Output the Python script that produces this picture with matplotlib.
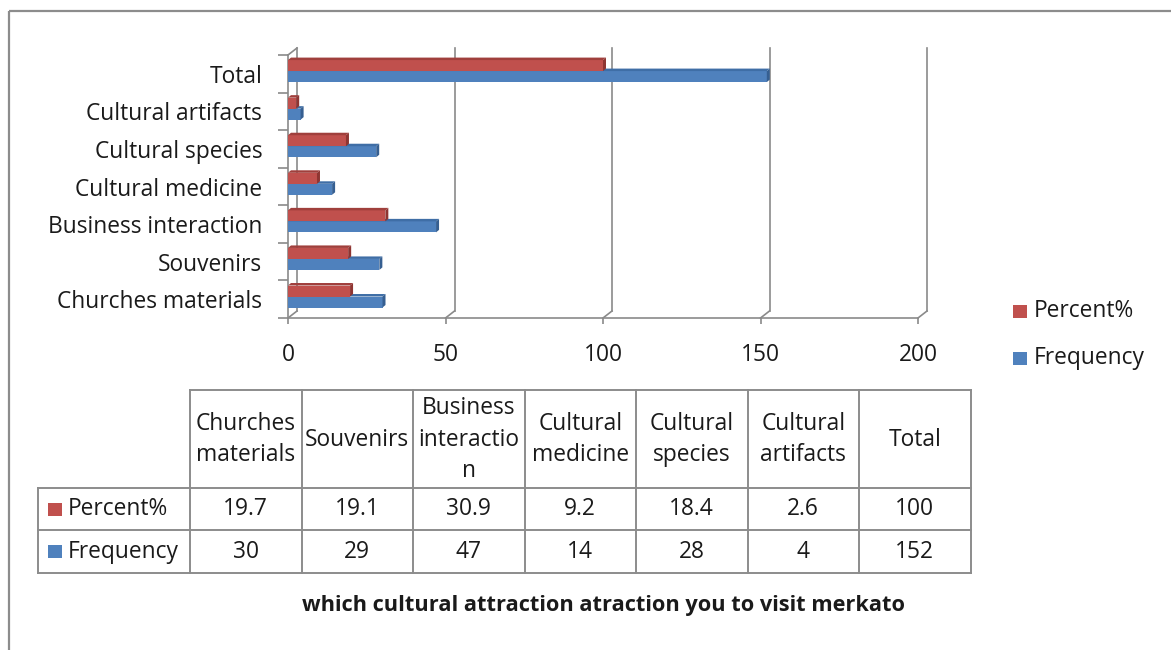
import matplotlib
matplotlib.use("Agg")
import matplotlib.pyplot as plt
from matplotlib.patches import Polygon, Rectangle
from matplotlib.lines import Line2D
from matplotlib.transforms import ScaledTranslation

# ---- data -------------------------------------------------------------
categories = ["Churches materials", "Souvenirs", "Business interaction",
              "Cultural medicine", "Cultural species", "Cultural artifacts", "Total"]
table_headers = ["Churches\nmaterials", "Souvenirs", "Business\ninteractio\nn",
                 "Cultural\nmedicine", "Cultural\nspecies", "Cultural\nartifacts", "Total"]
percent = [19.7, 19.1, 30.9, 9.2, 18.4, 2.6, 100]
frequency = [30, 29, 47, 14, 28, 4, 152]
series_names = ["Percent%", "Frequency"]
x_ticks = [0, 50, 100, 150, 200]
title = "which cultural attraction atraction you to visit merkato"

# ---- style ------------------------------------------------------------
plt.rcParams['font.family'] = ['Open Sans', 'DejaVu Sans']
RED, RED_DK, RED_SIDE = "#C0504D", "#A03F3C", "#8E3532"
BLUE, BLUE_DK, BLUE_SIDE = "#4F81BD", "#3F6EA6", "#365F91"
GRID = "#8A8A8A"
FS = 16.4
TXT = "#1a1a1a"

W, H = 1171, 650
fig = plt.figure(figsize=(W / 100, H / 100), dpi=100)

# overlay in pixel units for frame, legend and data table
ov = fig.add_axes([0, 0, 1, 1], zorder=0)
ov.set_xlim(0, W)
ov.set_ylim(H, 0)
ov.axis("off")

# outer frame
ov.add_patch(Rectangle((9, 11), 1300, 800, fill=False, edgecolor="#8C8C8C", lw=1.6))

# ---- chart axes (front plane) ------------------------------------------
px_l, px_r, px_t, px_b = 288, 918, 55, 318
ax = fig.add_axes([px_l / W, 1 - px_b / H, (px_r - px_l) / W, (px_b - px_t) / H], zorder=1)
ax.patch.set_visible(False)
ax.set_xlim(0, 200)
ax.set_ylim(-0.5, len(categories) - 0.5)

ux = 200 / (px_r - px_l)              # data units per pixel, x
uy = len(categories) / (px_b - px_t)  # data units per pixel, y

# back wall offset (depth)
back = ax.transData + ScaledTranslation(9 / 100, 7 / 100, fig.dpi_scale_trans)
ymin, ymax = -0.5, len(categories) - 0.5
for v in x_ticks:
    ax.add_line(Line2D([v, v], [ymin, ymax], transform=back, color=GRID, lw=1.2,
                       clip_on=False, zorder=1))
    # floor diagonal from front to back
    ax.add_line(Line2D([v, v + 9 * ux], [ymin, ymin + 7 * uy], color=GRID, lw=1.2,
                       clip_on=False, zorder=1))
# left wall top diagonal
ax.add_line(Line2D([0, 9 * ux], [ymax, ymax + 7 * uy], color=GRID, lw=1.2,
                   clip_on=False, zorder=1))

for s in ["top", "right"]:
    ax.spines[s].set_visible(False)
for s in ["left", "bottom"]:
    ax.spines[s].set_color(GRID)
    ax.spines[s].set_linewidth(1.2)

ax.set_xticks(x_ticks)
ax.set_xticklabels([str(v) for v in x_ticks], fontsize=FS, color=TXT)
ax.tick_params(axis="x", length=4.5, width=1.2, color=GRID, pad=13.5)
ax.set_yticks(range(len(categories)))
ax.set_yticklabels(categories, fontsize=FS, color=TXT)
ax.tick_params(axis="y", which="major", length=0, pad=18.5)
ax.set_yticks([i - 0.5 for i in range(len(categories) + 1)], minor=True)
ax.tick_params(axis="y", which="minor", length=7, width=1.2, color=GRID)

# ---- 3D-look bars ------------------------------------------------------
bar_h = 11 * uy
lift = 2.7 * uy
ddx, ddy = 3 * ux, 2.5 * uy


def bar3d(y0, v, face, top, side):
    ax.barh(y0 + bar_h / 2, v, height=bar_h, left=0, color=face, edgecolor="none",
            zorder=3)
    ax.add_patch(Polygon([(0, y0 + bar_h), (v, y0 + bar_h), (v + ddx, y0 + bar_h + ddy),
                          (ddx, y0 + bar_h + ddy)], closed=True, facecolor=top,
                         edgecolor="none", zorder=3, clip_on=False))
    ax.add_patch(Polygon([(v, y0), (v + ddx, y0 + ddy), (v + ddx, y0 + bar_h + ddy),
                          (v, y0 + bar_h)], closed=True, facecolor=side,
                         edgecolor="none", zorder=3, clip_on=False))


for i in range(len(categories)):
    bar3d(i + lift - bar_h, frequency[i], BLUE, BLUE_DK, BLUE_SIDE)
    bar3d(i + lift, percent[i], RED, RED_DK, RED_SIDE)

# ---- legend -------------------------------------------------------------
for k, (name, col) in enumerate(zip(series_names, [RED, BLUE])):
    yc = 311 + k * 47
    ov.add_patch(Rectangle((1013, yc - 6.5), 14, 13, facecolor=col, edgecolor="none"))
    ov.text(1034, yc, name, fontsize=FS, va="center", ha="left", color=TXT)

# ---- data table ---------------------------------------------------------
col_x = [38, 190] + [190 + 111.5 * (j + 1) for j in range(len(categories))]
row_y = [390, 488, 530, 573]
lc = "#8C8C8C"
ov.add_line(Line2D([col_x[1], col_x[-1]], [row_y[0]] * 2, color=lc, lw=1.4))
for yy in row_y[1:]:
    ov.add_line(Line2D([col_x[0], col_x[-1]], [yy] * 2, color=lc, lw=1.4))
ov.add_line(Line2D([col_x[0]] * 2, [row_y[1], row_y[3]], color=lc, lw=1.4))
for xx in col_x[1:]:
    ov.add_line(Line2D([xx] * 2, [row_y[0], row_y[3]], color=lc, lw=1.4))

for j, hdr in enumerate(table_headers):
    xc = (col_x[j + 1] + col_x[j + 2]) / 2
    ov.text(xc, (row_y[0] + row_y[1]) / 2 + 0.5, hdr, fontsize=FS, ha="center",
            va="center", linespacing=1.44, color=TXT)
    ov.text(xc, (row_y[1] + row_y[2]) / 2, f"{percent[j]:g}", fontsize=FS,
            ha="center", va="center", color=TXT)
    ov.text(xc, (row_y[2] + row_y[3]) / 2, f"{frequency[j]:g}", fontsize=FS,
            ha="center", va="center", color=TXT)

for k, (name, col) in enumerate(zip(series_names, [RED, BLUE])):
    yc = (row_y[k + 1] + row_y[k + 2]) / 2
    ov.add_patch(Rectangle((48, yc - 6.5), 14, 13, facecolor=col, edgecolor="none"))
    ov.text(68, yc, name, fontsize=FS, va="center", ha="left", color=TXT)

ov.text(604, 606, title, fontsize=15.7, fontweight="bold", ha="center", va="center",
        color=TXT)

fig.savefig("out.png", dpi=100)
